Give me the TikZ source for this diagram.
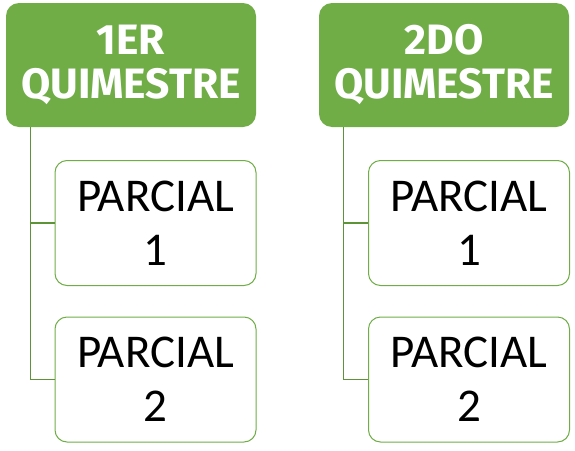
\documentclass[tikz,border=0pt]{standalone}
\usepackage{fontspec}
\setmainfont{Carlito}
\newfontfamily\headfont{Fira Sans}
\usetikzlibrary{calc}
\definecolor{accent}{HTML}{70AD47}
\definecolor{linkgreen}{HTML}{5E9438}
\begin{document}
\begin{tikzpicture}[x=1pt,y=-1pt,
  header/.style={draw=none, fill=accent, rounded corners=13pt, inner sep=0pt,
    minimum width=250pt, minimum height=124pt, align=center, text=white,
    font=\headfont\bfseries\fontsize{42.5}{44}\selectfont},
  partbox/.style={draw=accent, line width=1pt, fill=white, rounded corners=12pt, inner sep=0pt,
    minimum width=201pt, minimum height=125pt, align=center, text=black,
    font=\fontsize{47}{54}\selectfont},
  link/.style={draw=linkgreen, line width=1.2pt}]
\useasboundingbox (0,0) rectangle (575,450);

% first term
\node[header] (h1) at (131,65) {1ER\\QUIMESTRE};
\node[partbox] (p11) at (155.5,223) {PARCIAL\\1};
\node[partbox] (p12) at (155.5,379.5) {PARCIAL\\2};
\coordinate (t1) at ($(h1.south west)+(25,0)$);
\draw[link] (t1) |- (p11.west);
\draw[link] (t1) |- (p12.west);

% second term
\node[header] (h2) at (444,65) {2DO\\QUIMESTRE};
\node[partbox] (p21) at (469,223) {PARCIAL\\1};
\node[partbox] (p22) at (469,379.5) {PARCIAL\\2};
\coordinate (t2) at ($(h2.south west)+(25,0)$);
\draw[link] (t2) |- (p21.west);
\draw[link] (t2) |- (p22.west);
\end{tikzpicture}
\end{document}
